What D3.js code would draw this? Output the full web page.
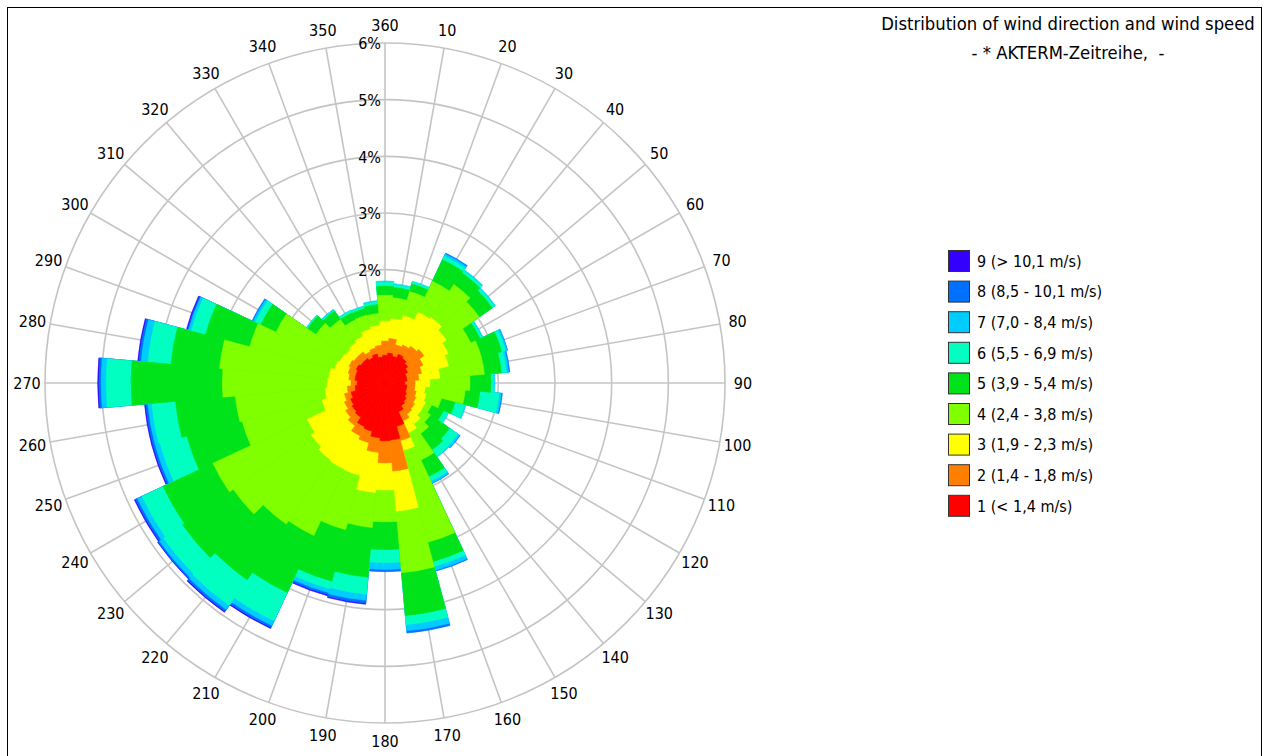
<!DOCTYPE html>
<html>
<head>
<meta charset="utf-8">
<script src="https://cdn.jsdelivr.net/npm/d3@7"></script>
<style>
  body { margin: 0; background: #fff; }
  text { font-family: "DejaVu Sans Condensed", "DejaVu Sans", sans-serif; font-stretch: condensed; fill: #000; }
  text.title { white-space: pre; }
</style>
</head>
<body>
<svg id="chart" width="1264" height="756"></svg>
<script>
// sector centres in degrees (clockwise from north)
const directions = [10, 20, 30, 40, 50, 60, 70, 80, 90, 100, 110, 120, 130, 140, 150, 160, 170, 180,
                    190, 200, 210, 220, 230, 240, 250, 260, 270, 280, 290, 300, 310, 320, 330, 340, 350, 360];

// frequency (%) per sector, one array per wind speed class
const class1 = [0.53,0.49,0.56,0.53,0.49,0.44,0.39,0.39,0.35,0.39,0.39,0.42,0.46,0.49,0.56,0.79,1.01,1.02,
                0.97,0.88,0.85,0.74,0.71,0.67,0.62,0.53,0.49,0.53,0.53,0.56,0.53,0.53,0.49,0.53,0.46,0.49];
const class2 = [0.26,0.21,0.18,0.26,0.35,0.30,0.28,0.21,0.18,0.14,0.18,0.18,0.18,0.18,0.18,0.26,0.55,0.39,
                0.26,0.21,0.18,0.18,0.14,0.12,0.12,0.14,0.11,0.11,0.14,0.14,0.14,0.14,0.12,0.11,0.21,0.25];
const class3 = [0.35,0.53,0.64,0.62,0.48,0.49,0.49,0.37,0.26,0.18,0.18,0.19,0.16,0.21,0.23,0.18,0.71,0.48,
                0.71,0.60,0.65,0.74,0.74,0.72,0.41,0.39,0.42,0.35,0.25,0.18,0.18,0.21,0.30,0.34,0.35,0.35];
const class4 = [0.37,0.44,0.60,0.71,0.71,0.44,0.60,0.79,0.71,0.71,0.28,0.12,0.18,0.21,0.53,1.68,1.09,0.56,
                0.62,0.99,1.29,1.38,1.68,1.84,1.46,1.59,1.85,1.94,1.55,1.24,0.64,0.49,0.32,0.26,0.21,0.46];
const class5 = [0.18,0.14,0.42,0.25,0.28,0.18,0.37,0.30,0.37,0.26,0.25,0.23,0.41,0.35,0.32,0.35,0.76,0.49,
                0.88,0.94,1.11,1.20,1.09,0.97,1.01,1.06,1.61,0.86,0.81,0.30,0.18,0.18,0.14,0.12,0.16,0.16];
const class6 = [0.05,0.04,0.07,0.05,0.05,0.04,0.07,0.09,0.05,0.34,0.18,0.09,0.18,0.14,0.09,0.09,0.16,0.23,
                0.30,0.14,0.55,0.55,0.41,0.41,0.49,0.42,0.44,0.41,0.26,0.11,0.02,0.02,0.04,0.04,0.05,0.07];
const class7 = [0.02,0.01,0.04,0.02,0.02,0.02,0.03,0.04,0.02,0.04,0.02,0.01,0.04,0.02,0.04,0.07,0.11,0.12,
                0.11,0.07,0.09,0.09,0.09,0.09,0.09,0.07,0.09,0.12,0.05,0.04,0.01,0.02,0.01,0.01,0.02,0.02];
const class8 = [0,0,0.02,0,0,0,0.01,0.02,0,0.02,0,0,0.01,0,0.01,0.02,0.04,0.04,
                0.05,0.04,0.04,0.04,0.03,0.04,0.04,0.04,0.04,0.04,0.02,0.02,0,0,0,0,0,0];
const class9 = [0,0,0,0,0,0,0,0,0,0,0,0,0,0,0,0,0,0,
                0.02,0.02,0.02,0.02,0.01,0.02,0.02,0.02,0.02,0.02,0.02,0,0,0,0,0,0,0];

const classLabels = ["1 (< 1,4 m/s)", "2 (1,4 - 1,8 m/s)", "3 (1,9 - 2,3 m/s)", "4 (2,4 - 3,8 m/s)",
                     "5 (3,9 - 5,4 m/s)", "6 (5,5 - 6,9 m/s)", "7 (7,0 - 8,4 m/s)", "8 (8,5 - 10,1 m/s)",
                     "9 (> 10,1 m/s)"];
const classColors = ["#ff0000", "#ff8000", "#ffff00", "#80ff00", "#00e31a", "#00ffc0", "#00ccff", "#0070ff", "#3300ff"];
const percentTicks = [1, 2, 3, 4, 5, 6];
const titleLines = ["Distribution of wind direction and wind speed", "- * AKTERM-Zeitreihe,  -"];

const svg = d3.select("#chart");
const cx = 385, cy = 383, maxR = 340;
const rad = d => d * Math.PI / 180;

// frame
svg.append("rect")
    .attr("x", 7.5).attr("y", 7.5)
    .attr("width", 1254).attr("height", 770)
    .attr("fill", "none").attr("stroke", "#000");

let r = d3.scaleLinear().domain([0, 6]).range([0, maxR]);
let g = svg.append("g").attr("transform", "translate(" + cx + "," + cy + ")");

// grid
g.selectAll("circle.ring")
    .data(percentTicks)
    .join("circle")
    .attr("class", "ring")
    .attr("r", d => r(d))
    .attr("fill", "none")
    .attr("stroke", "#c4c4c4")
    .attr("stroke-width", 1.6);

g.selectAll("line.spoke")
    .data(directions)
    .join("line")
    .attr("class", "spoke")
    .attr("x1", 0).attr("y1", 0)
    .attr("x2", d => r(6) * Math.sin(rad(d)))
    .attr("y2", d => -r(6) * Math.cos(rad(d)))
    .attr("stroke", "#c4c4c4")
    .attr("stroke-width", 1.6);

g.selectAll("text.pct")
    .data(percentTicks)
    .join("text")
    .attr("class", "pct")
    .attr("x", -4)
    .attr("y", d => -r(d))
    .attr("dy", "0.4em")
    .attr("text-anchor", "end")
    .style("font-size", "16px")
    .text(d => d + "%");

g.selectAll("text.dir")
    .data(directions)
    .join("text")
    .attr("class", "dir")
    .attr("x", d => 358 * Math.sin(rad(d)))
    .attr("y", d => -358 * Math.cos(rad(d)))
    .attr("dy", "0.36em")
    .attr("text-anchor", "middle")
    .style("font-size", "16px")
    .text(d => d);

// stacked sectors
const keys = ["c1", "c2", "c3", "c4", "c5", "c6", "c7", "c8", "c9"];
const classes = [class1, class2, class3, class4, class5, class6, class7, class8, class9];
const table = directions.map((dir, i) => {
    let row = { dir: dir };
    keys.forEach((k, j) => row[k] = classes[j][i]);
    return row;
});
const series = d3.stack().keys(keys)(table);

const arc = d3.arc();
// draw outermost class first as full wedges so no seams show between classes
g.selectAll("g.layer")
    .data(series.slice().reverse())
    .join("g")
    .attr("class", "layer")
    .attr("fill", d => classColors[d.index])
    .attr("stroke", d => classColors[d.index])
    .attr("stroke-width", 0.6)
    .selectAll("path")
    .data(d => d.filter(p => p[1] - p[0] > 0))
    .join("path")
    .attr("d", p => arc({
        innerRadius: 0,
        outerRadius: r(p[1]),
        startAngle: rad(p.data.dir - 5),
        endAngle: rad(p.data.dir + 5)
    }));

// title
svg.selectAll("text.title")
    .data(titleLines)
    .join("text")
    .attr("class", "title")
    .attr("x", 1068)
    .attr("y", (d, i) => 30 + i * 29)
    .attr("text-anchor", "middle")
    .style("font-size", "18.3px")
    .text(d => d);

// legend, highest class on top
let legend = svg.append("g").attr("transform", "translate(948,250)");
let items = legend.selectAll("g.item")
    .data(d3.range(9).reverse())
    .join("g")
    .attr("class", "item")
    .attr("transform", (d, i) => "translate(0," + (i * 30.6) + ")");
items.append("rect")
    .attr("x", 0.5).attr("y", 0.5)
    .attr("width", 21).attr("height", 21)
    .attr("fill", d => classColors[d])
    .attr("stroke", "#333");
items.append("text")
    .attr("x", 29)
    .attr("y", 11)
    .attr("dy", "0.36em")
    .style("font-size", "16px")
    .text(d => classLabels[d]);
</script>
</body>
</html>
